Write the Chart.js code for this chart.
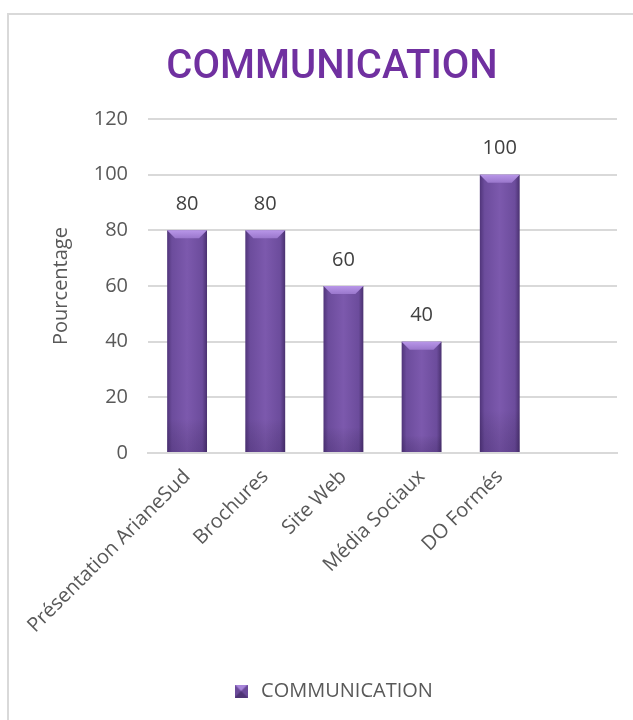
<!DOCTYPE html>
<html>
<head>
<meta charset="utf-8">
<script src="https://cdn.jsdelivr.net/npm/chart.js@4/dist/chart.umd.min.js"></script>
<style>
  html, body { margin: 0; padding: 0; background: #fff; }
  #wrap { position: relative; width: 633px; height: 720px; }
  #frame { position: absolute; left: 7px; top: 13px; width: 640px; height: 720px; border-left: 2px solid #d9d9d9; border-top: 2px solid #d9d9d9; box-sizing: border-box; pointer-events: none; }
  canvas { position: absolute; left: 0; top: 0; }
</style>
</head>
<body>
<div id="wrap">
  <canvas id="c" width="633" height="720"></canvas>
  <div id="frame"></div>
</div>
<script>
const categories = ["Présentation ArianeSud", "Brochures", "Site Web", "Média Sociaux", "DO Formés", ""];
const values = [80, 80, 60, 40, 100, null];
const seriesName = "COMMUNICATION";
const titleText = "COMMUNICATION";
const yTitle = "Pourcentage";

const barStyle = {
  id: 'barStyle',
  afterDatasetsDraw(chart) {
    const ctx = chart.ctx;
    const meta = chart.getDatasetMeta(0);
    meta.data.forEach((bar, i) => {
      if (values[i] == null) return;
      const p = bar.getProps(['x', 'y', 'base', 'width'], true);
      const l = p.x - p.width / 2, r = p.x + p.width / 2, t = p.y, b = p.base;
      const g = ctx.createLinearGradient(l, 0, r, 0);
      g.addColorStop(0, '#50357a');
      g.addColorStop(0.12, '#6c4c9c');
      g.addColorStop(0.5, '#7c59ad');
      g.addColorStop(0.88, '#6c4c9c');
      g.addColorStop(1, '#4a3170');
      ctx.save();
      ctx.fillStyle = g;
      ctx.fillRect(l, t, r - l, b - t);
      const vg = ctx.createLinearGradient(0, t, 0, b);
      vg.addColorStop(0, 'rgba(0,0,0,0)');
      vg.addColorStop(0.85, 'rgba(0,0,0,0)');
      vg.addColorStop(1, 'rgba(30,10,60,0.18)');
      ctx.fillStyle = vg;
      ctx.fillRect(l, t, r - l, b - t);
      const bv = 8;
      const tg = ctx.createLinearGradient(0, t, 0, t + bv);
      tg.addColorStop(0, '#b896e8');
      tg.addColorStop(1, '#9a77cc');
      ctx.fillStyle = tg;
      ctx.beginPath();
      ctx.moveTo(l, t); ctx.lineTo(r, t); ctx.lineTo(r - bv, t + bv); ctx.lineTo(l + bv, t + bv); ctx.closePath();
      ctx.fill();
      ctx.restore();
      ctx.save();
      ctx.fillStyle = '#404040';
      ctx.font = '20px "Open Sans"';
      ctx.textAlign = 'center';
      ctx.textBaseline = 'middle';
      ctx.fillText(String(values[i]), p.x, t - 26);
      ctx.restore();
    });
  }
};

const legendSwatch = (() => {
  const cv = document.createElement('canvas');
  cv.width = 13; cv.height = 13;
  const c = cv.getContext('2d');
  c.fillStyle = '#6b4a9a'; c.fillRect(0, 0, 13, 13);
  c.fillStyle = '#a886da';
  c.beginPath(); c.moveTo(0, 0); c.lineTo(13, 0); c.lineTo(6.5, 6.5); c.closePath(); c.fill();
  c.fillStyle = '#4e3475';
  c.beginPath(); c.moveTo(0, 13); c.lineTo(13, 13); c.lineTo(6.5, 6.5); c.closePath(); c.fill();
  return cv;
})();

new Chart(document.getElementById('c'), {
  type: 'bar',
  data: {
    labels: categories,
    datasets: [{
      label: seriesName,
      data: values,
      backgroundColor: 'rgba(0,0,0,0)',
      borderWidth: 0,
      categoryPercentage: 1,
      barPercentage: 0.51
    }]
  },
  options: {
    responsive: false,
    animation: false,
    devicePixelRatio: 1,
    layout: { padding: { left: 47, right: 16, top: 30, bottom: 9 } },
    plugins: {
      title: {
        display: true,
        text: titleText,
        color: '#7030A0',
        font: { family: 'Roboto', size: 40, weight: '500' },
        padding: { top: 14, bottom: 27 }
      },
      legend: {
        display: true,
        position: 'bottom',
        labels: {
          color: '#595959',
          font: { family: 'Open Sans', size: 20 },
          usePointStyle: true,
          pointStyle: legendSwatch,
          padding: 10
        }
      },
      tooltip: { enabled: false }
    },
    scales: {
      x: {
        grid: { display: false },
        border: { color: '#d9d9d9', width: 2 },
        ticks: {
          color: '#595959',
          font: { family: 'Open Sans', size: 20 },
          minRotation: 45, maxRotation: 45,
          padding: 4
        },
        afterFit(s) { s.height = 218; }
      },
      y: {
        min: 0, max: 120,
        ticks: { stepSize: 20, color: '#595959', font: { family: 'Open Sans', size: 20 }, padding: 20 },
        grid: { color: '#d9d9d9', lineWidth: 2, drawTicks: false },
        border: { display: false },
        title: { display: true, text: yTitle, color: '#595959', font: { family: 'Open Sans', size: 20 }, padding: 2 },
        afterFit(s) { s.width = 101; }
      }
    }
  },
  plugins: [barStyle]
});
</script>
</body>
</html>
